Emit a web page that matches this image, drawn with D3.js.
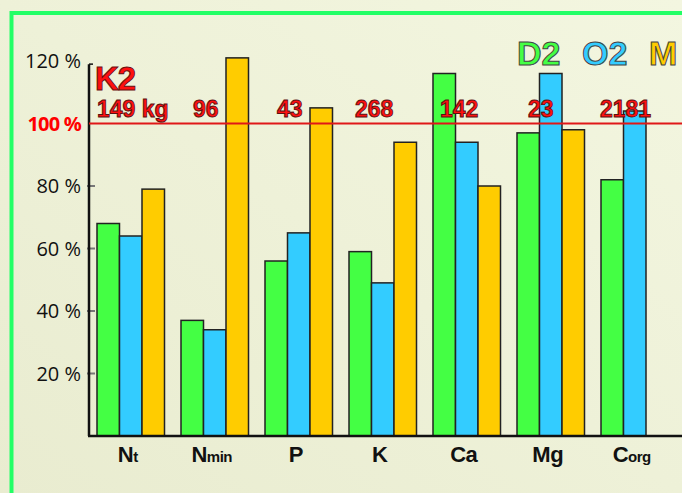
<!DOCTYPE html>
<html><head><meta charset="utf-8">
<script src="https://cdn.jsdelivr.net/npm/d3@7"></script>
<style>
html,body{margin:0;padding:0;background:#eef0d6;}
svg{display:block;}
</style></head>
<body>
<svg id="c" width="682" height="493"></svg>
<script>
const categories = ["Nt","Nmin","P","K","Ca","Mg","Corg"];
const catMain = ["N","N","P","K","Ca","Mg","C"];
const catSub = ["t","min","","","","","org"];
const seriesNames = ["D2","O2","M"];
const D2 = [68,37,56,59,116,97,82];
const O2 = [64,34,65,49,94,116,104];
const M  = [79,121,105,94,80,98,null];
const refLabels = ["149 kg","96","43","268","142","23","2181"];
const yTicks = [20,40,60,80,100,120];
const colors = ["#44ff44","#33ccff","#ffcc00"];

const svg = d3.select("#c");
const defs = svg.append("defs");
const g0 = defs.append("linearGradient").attr("id","bg").attr("x1","0").attr("y1","1").attr("x2","1").attr("y2","0");
g0.append("stop").attr("offset","0").attr("stop-color","#e9ecd0");
g0.append("stop").attr("offset","1").attr("stop-color","#f3f6e0");
svg.append("rect").attr("width",682).attr("height",493).attr("fill","url(#bg)");

// frame
svg.append("rect").attr("x",11.5).attr("y",13).attr("width",700).attr("height",520)
  .attr("fill","none").attr("stroke","#22ff66").attr("stroke-width",4);

const x0 = 89, baseY = 436, step = 84, gap = 16.5;
const y = d3.scaleLinear().domain([0,120]).range([baseY, baseY - 120*3.125]);
const xb = d3.scaleBand().domain(categories).range([x0+8, x0+8+step*7-gap]).paddingInner(gap/step).paddingOuter(0);
const xs = d3.scaleBand().domain(seriesNames).range([0, xb.bandwidth()]);

const font = "'Open Sans', 'Noto Sans', sans-serif";
const boldFont = "'Liberation Sans', Arial, sans-serif";
const narrow = "'Liberation Sans Narrow', 'Arial Narrow', 'Liberation Sans', sans-serif";

// y tick labels
yTicks.forEach(t=>{
  svg.append("text").attr("x",81).attr("y",y(t)+7).attr("text-anchor","end")
    .attr("font-family",font).attr("font-size",20)
    .attr("font-weight", t===100?700:400)
    .attr("fill", t===100?"#ff0000":"#111")
    .attr("letter-spacing", t===100?-0.8:0)
    .text(t+" %");
  if(t!==100 && t!==120) svg.append("line").attr("x1",87).attr("x2",95).attr("y1",y(t)).attr("y2",y(t))
    .attr("stroke","#777").attr("stroke-width",2);
});

// bars
const series = [D2,O2,M];
series.forEach((arr,si)=>{
  svg.append("g").selectAll("rect").data(categories.map((c,i)=>({c,v:arr[i]})).filter(d=>d.v!=null))
    .join("rect")
    .attr("x",d=>xb(d.c)+xs(seriesNames[si]))
    .attr("y",d=>y(d.v))
    .attr("width",xs.bandwidth())
    .attr("height",d=>baseY-y(d.v))
    .attr("fill",colors[si]).attr("stroke","#222").attr("stroke-width",1.5);
});

// axes
svg.append("line").attr("x1",x0).attr("x2",x0).attr("y1",y(119)).attr("y2",baseY)
  .attr("stroke","#111").attr("stroke-width",2.5);
svg.append("line").attr("x1",x0).attr("x2",x0+4).attr("y1",y(119)).attr("y2",y(119))
  .attr("stroke","#111").attr("stroke-width",1.5);
svg.append("line").attr("x1",x0-1).attr("x2",682).attr("y1",baseY).attr("y2",baseY)
  .attr("stroke","#111").attr("stroke-width",2.5);

// 100% line
svg.append("line").attr("x1",x0).attr("x2",682).attr("y1",y(100)).attr("y2",y(100))
  .attr("stroke","#e01818").attr("stroke-width",2);

// K2 and reference labels
svg.append("text").attr("x",95).attr("y",90).attr("font-family",boldFont).attr("font-weight",700)
  .attr("font-size",33).attr("fill","#ff1010").attr("stroke","#6a1010").attr("stroke-width",1)
  .attr("letter-spacing",-1).text("K2");
const labOff = [0,12,12,6,7,11,-1];
refLabels.forEach((l,i)=>{
  svg.append("text").attr("x",xb(categories[i]) + labOff[i]).attr("y",117)
    .attr("font-family",narrow).attr("font-weight",700).attr("font-size",23)
    .attr("fill","#ff1010").attr("stroke","#5a1010").attr("stroke-width",0.9)
    .text(l);
});

// legend
const legX = [517,582,649];
seriesNames.forEach((n,i)=>{
  svg.append("text").attr("x",legX[i]).attr("y",65).attr("font-family",boldFont).attr("font-weight",700)
    .attr("font-size",34).attr("fill",colors[i]).attr("stroke","#444").attr("stroke-width",1)
    .text(n);
});

// category labels
categories.forEach((c,i)=>{
  const t = svg.append("text").attr("x",xb(c)+xb.bandwidth()/2 - 3).attr("y",462)
    .attr("text-anchor","middle").attr("font-family",boldFont).attr("font-weight",700)
    .attr("fill","#111").attr("letter-spacing",-0.5);
  t.append("tspan").attr("font-size",22).text(catMain[i]);
  if(catSub[i]) t.append("tspan").attr("font-size",15).attr("dx",0).text(catSub[i]);
});
</script>
</body></html>
